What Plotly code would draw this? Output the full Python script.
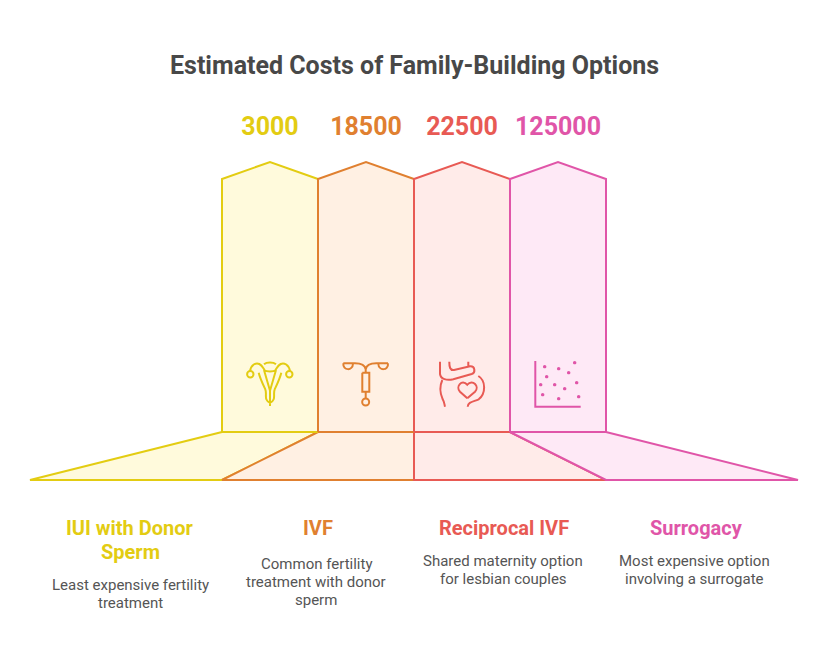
import plotly.graph_objects as go

# ---- data ----
categories = ["IUI with Donor<br>Sperm", "IVF", "Reciprocal IVF", "Surrogacy"]
costs = [3000, 18500, 22500, 125000]
descriptions = [
    "Least expensive fertility<br>treatment",
    "Common fertility<br>treatment with donor<br>sperm",
    "Shared maternity option<br>for lesbian couples",
    "Most expensive option<br>involving a surrogate",
]
title = "Estimated Costs of Family-Building Options"

# ---- styles / layout constants ----
W, H = 828, 672
line_colors = ["#E3CC12", "#E08030", "#E85A54", "#E055A8"]
fill_colors = ["#FFFADC", "#FFF0E3", "#FFEBE9", "#FEE9F6"]
TXT = "#484848"
DESC = "#555555"
FONT = "Roboto"
X0, COL = 222, 96            # left edge and width of a column
Y_PEAK, Y_SHOULDER, Y_BASE, Y_FLOOR = 162, 179, 432, 480
FLOOR_L = [30, 222, 414, 606]
FLOOR_R = [222, 414, 606, 798]
VALUE_Y = 129
LABEL_X = [130, 318, 503.5, 696]
LABEL_Y = 528
LABEL_STEP = 24
DESC_X = [130.5, 316, 503, 694]
DESC_Y = [585, 564, 561, 561]
DESC_STEP = 18

fig = go.Figure()

for i, cost in enumerate(costs):
    left, right = X0 + i * COL, X0 + (i + 1) * COL
    fig.add_trace(go.Scatter(
        x=[left, right, FLOOR_R[i], FLOOR_L[i], left],
        y=[Y_BASE, Y_BASE, Y_FLOOR, Y_FLOOR, Y_BASE],
        mode="lines", fill="toself", fillcolor=fill_colors[i],
        line=dict(color=line_colors[i], width=2),
        hoverinfo="skip", showlegend=False))
for i, cost in enumerate(costs):
    left, right = X0 + i * COL, X0 + (i + 1) * COL
    mid = (left + right) / 2
    fig.add_trace(go.Scatter(
        x=[left, left, mid, right, right, left],
        y=[Y_BASE, Y_SHOULDER, Y_PEAK, Y_SHOULDER, Y_BASE, Y_BASE],
        mode="lines", fill="toself", fillcolor=fill_colors[i],
        line=dict(color=line_colors[i], width=2),
        hoverinfo="skip", showlegend=False))

# cost values above each column
fig.add_trace(go.Scatter(
    x=[X0 + (i + 0.5) * COL for i in range(len(costs))],
    y=[VALUE_Y] * len(costs),
    mode="text", text=[str(c) for c in costs],
    textposition="middle center",
    textfont=dict(family=FONT, size=25, color=line_colors, weight=700),
    hoverinfo="skip", showlegend=False))

annotations = [dict(x=W / 2, y=65, text=title, showarrow=False, xanchor="center",
                    yanchor="middle", font=dict(family=FONT, size=25, color=TXT, weight=700))]
for i in range(4):
    for k, line in enumerate(categories[i].split("<br>")):
        annotations.append(dict(x=LABEL_X[i], y=LABEL_Y + k * LABEL_STEP, text=line, showarrow=False,
                                xanchor="center", yanchor="middle",
                                font=dict(family=FONT, size=20, color=line_colors[i], weight=700)))
    for k, line in enumerate(descriptions[i].split("<br>")):
        annotations.append(dict(x=DESC_X[i], y=DESC_Y[i] + k * DESC_STEP, text=line, showarrow=False,
                                xanchor="center", yanchor="middle",
                                font=dict(family=FONT, size=15, color=DESC)))


# ---- decorative icons, sketched in page pixels ----
def circle(cx, cy, r):
    k = 0.5523 * r
    return (f"M{cx-r},{cy} C{cx-r},{cy-k} {cx-k},{cy-r} {cx},{cy-r} "
            f"C{cx+k},{cy-r} {cx+r},{cy-k} {cx+r},{cy} "
            f"C{cx+r},{cy+k} {cx+k},{cy+r} {cx},{cy+r} "
            f"C{cx-k},{cy+r} {cx-r},{cy+k} {cx-r},{cy} Z")


def path(ox, oy, cmds):
    """Map zoom-crop coordinates to page pixels; one command per point group."""
    size = {"M": 1, "L": 1, "C": 3}
    out = []
    for c, pts in cmds:
        mapped = [(ox + a / 3, oy + b / 3) for a, b in pts]
        n = size[c]
        for j in range(0, len(mapped), n):
            out.append(c + " ".join(f"{a:.1f},{b:.1f}" for a, b in mapped[j:j + n]))
    return " ".join(out)


icon_paths = []
# uterus
u = [
    ("M", [(30, 64)]), ("C", [(33, 44), (48, 37), (58, 42), (68, 47), (70, 56), (74, 60)]),
    ("M", [(150, 64)]), ("C", [(147, 44), (132, 37), (122, 42), (112, 47), (110, 56), (106, 60)]),
    ("M", [(72, 43)]), ("C", [(80, 36), (100, 36), (108, 43)]),
    ("M", [(56, 68)]), ("C", [(60, 85), (70, 105), (76, 118), (82, 132), (70, 150), (90, 158)]),
    ("M", [(124, 68)]), ("C", [(120, 85), (110, 105), (104, 118), (98, 132), (110, 150), (90, 158)]),
    ("M", [(72, 60)]), ("L", [(90, 122), (108, 60)]),
    ("M", [(72, 60)]), ("C", [(80, 66), (100, 66), (108, 60)]),
    ("M", [(90, 122)]), ("L", [(90, 168)]),
]
icon_paths.append((0, path(240, 350, u)))
icon_paths.append((0, circle(250.3, 374.3, 3.2)))
icon_paths.append((0, circle(289.3, 374.3, 3.2)))
# IUD
d = [
    ("M", [(310, 40)]), ("L", [(345, 40)]), ("C", [(362, 40), (375, 46), (377, 58)]),
    ("M", [(444, 40)]), ("L", [(409, 40)]), ("C", [(392, 40), (379, 46), (377, 58)]),
    ("M", [(310, 40)]), ("C", [(308, 62), (338, 64), (339, 41)]),
    ("M", [(444, 40)]), ("C", [(446, 62), (416, 64), (415, 41)]),
    ("M", [(377, 58)]), ("L", [(377, 68)]),
    ("M", [(367, 68)]), ("L", [(388, 68), (388, 125), (367, 125), (367, 68)]),
    ("M", [(377, 125)]), ("L", [(377, 145)]),
]
icon_paths.append((1, path(240, 350, d)))
icon_paths.append((1, circle(240 + 377 / 3, 350 + 156 / 3, 3.5)))
# belly and heart
b = [
    ("M", [(30, 35)]), ("L", [(30, 72)]), ("C", [(32, 88), (50, 92), (70, 88)]),
    ("L", [(125, 72)]), ("C", [(137, 68), (136, 48), (120, 49)]), ("L", [(72, 60)]),
    ("C", [(60, 62), (58, 50), (58, 35)]),
    ("M", [(115, 35)]), ("L", [(115, 48)]),
    ("M", [(37, 90)]), ("C", [(28, 110), (30, 130), (38, 148), (44, 158), (43, 163), (45, 170)]),
    ("M", [(145, 78)]), ("C", [(168, 92), (168, 130), (146, 148), (130, 155), (114, 155), (113, 170)]),
    ("M", [(112, 145)]), ("L", [(90, 125)]),
    ("C", [(76, 110), (95, 86), (112, 104), (128, 86), (150, 110), (135, 125)]), ("L", [(112, 145)]),
]
icon_paths.append((2, path(430, 350, b)))
# small scatter-plot icon
icon_paths.append((3, path(430, 350, [("M", [(316, 33)]), ("L", [(316, 170), (452, 170)])])))
dots = [(344, 50), (386, 56), (434, 38), (416, 68), (350, 80), (332, 104), (374, 104),
        (440, 98), (404, 116), (338, 134), (446, 140), (386, 146)]
for a, b_ in dots:
    icon_paths.append((3, None, 430 + a / 3, 350 + b_ / 3))

shapes = []
for item in icon_paths:
    if item[1] is None:
        _, _, cx, cy = item
        shapes.append(dict(type="path", path=circle(cx, cy, 1.7), xref="x", yref="y",
                           fillcolor=line_colors[3], line=dict(width=0), layer="above"))
    else:
        shapes.append(dict(type="path", path=item[1], xref="x", yref="y",
                           fillcolor="rgba(0,0,0,0)",
                           line=dict(color=line_colors[item[0]], width=2), layer="above"))

fig.update_layout(
    width=W, height=H,
    margin=dict(l=0, r=0, t=0, b=0),
    paper_bgcolor="white", plot_bgcolor="white",
    xaxis=dict(range=[0, W], visible=False, domain=[0, 1], fixedrange=True),
    yaxis=dict(range=[H, 0], visible=False, domain=[0, 1], fixedrange=True),
    annotations=annotations, shapes=shapes, showlegend=False,
)

fig.write_html("out.html", config=dict(displayModeBar=False),
               post_script="document.body.style.margin='0';")
